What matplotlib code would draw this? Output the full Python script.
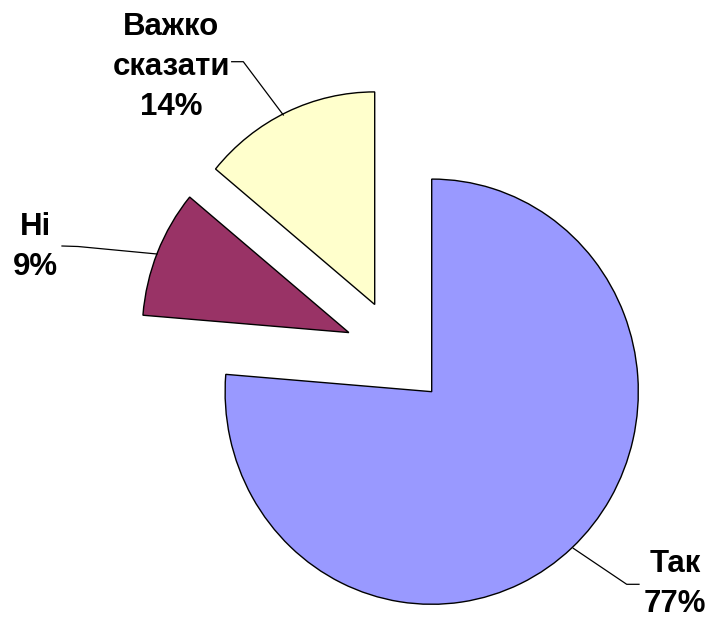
import matplotlib
matplotlib.use("Agg")
import matplotlib.pyplot as plt

# Data
categories = ["Так", "Ні", "Важко\nсказати"]
shares = [76.3, 9.7, 14.0]          # wedge sizes as measured from the slice angles
label_pcts = [77, 9, 14]            # percentages printed on the chart
colors = ["#9999FF", "#993366", "#FFFFCC"]

W, H = 712, 620
fig = plt.figure(figsize=(W / 100, H / 100), dpi=100)
ax = fig.add_axes([0, 0, 1, 1])

ax.pie(shares, explode=[0.25] * 3, startangle=90, counterclock=False,
       colors=colors, radius=1.0, center=(0, 0),
       wedgeprops=dict(edgecolor="black", linewidth=1.0))

# pixel scale of the (slightly elliptical) pie
rx, ry = 206.6, 212.6
cx, cy = 396.7, 352.6   # pie centre in pixels (from top-left)
ax.set_aspect("auto")
ax.set_xlim(-cx / rx, (W - cx) / rx)
ax.set_ylim(-(H - cy) / ry, cy / ry)
ax.axis("off")


def fpx(x, y):
    return (x / W, 1 - y / H)


font = dict(family=["Liberation Sans", "DejaVu Sans"], fontsize=22.5,
            fontweight="bold", ha="center", va="center", linespacing=1.43)

label_pos = [(675, 584), (35.5, 247), (171, 66.7)]
for cat, pct, (x, y) in zip(categories, label_pcts, label_pos):
    fig.text(*fpx(x, y), f"{cat}\n{pct}%", **font)

leaders = [
    [(573.3, 548.3), (626.7, 584.3), (639, 584.3)],
    [(157, 254), (78, 246.5), (62, 246)],
    [(283.3, 115), (243.3, 61.7), (231.7, 61.7)],
]
for pts in leaders:
    xs = [p[0] / W for p in pts]
    ys = [1 - p[1] / H for p in pts]
    fig.add_artist(plt.Line2D(xs, ys, transform=fig.transFigure,
                              color="black", linewidth=0.9))

fig.savefig("out.png", dpi=100, facecolor="white")
